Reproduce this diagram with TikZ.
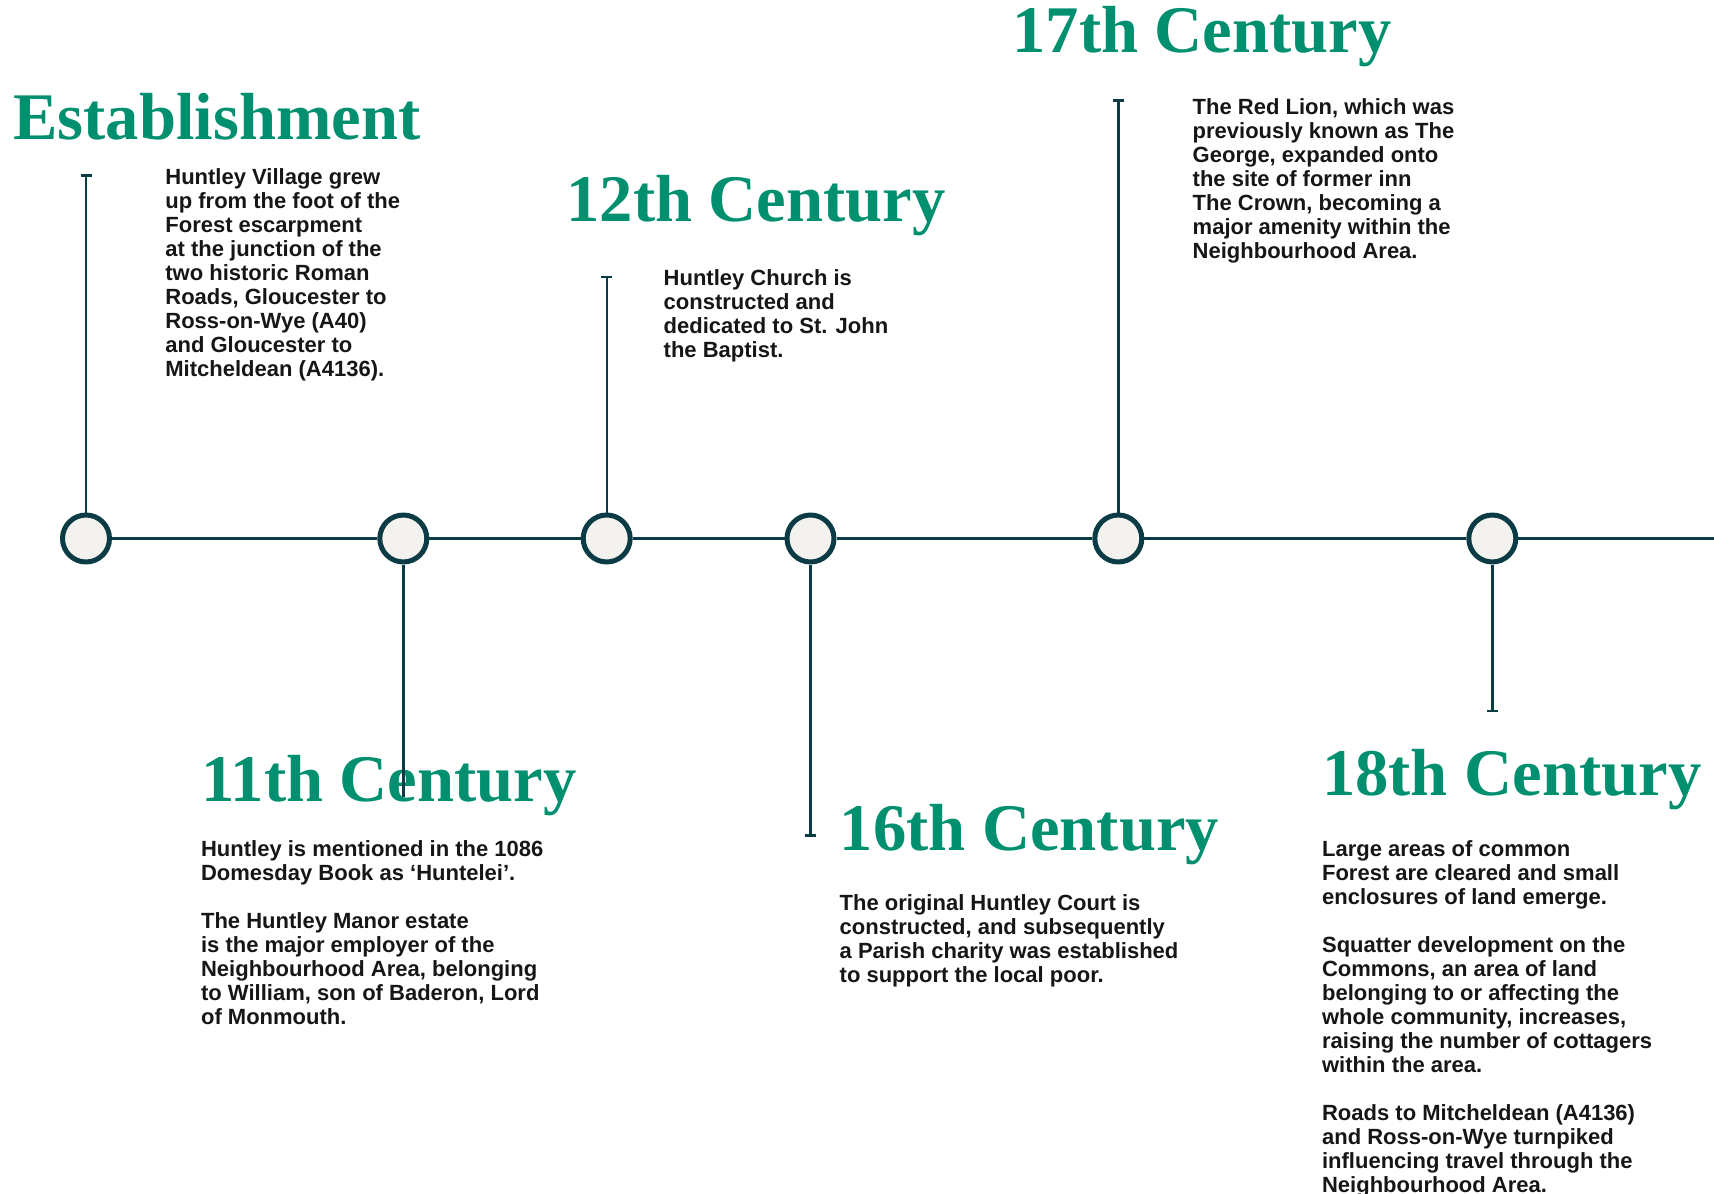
\documentclass[tikz,border=0pt]{standalone}
\usepackage{fontspec}
\setmainfont{Liberation Sans}
\newfontfamily\headfont{Liberation Serif}
\usetikzlibrary{arrows.meta}
\definecolor{eragreen}{HTML}{00906F}
\definecolor{deepteal}{HTML}{0B3C46}
\definecolor{paper}{HTML}{F3F2EE}
\definecolor{ink}{HTML}{161616}

\begin{document}
\begin{tikzpicture}[x=0.5pt,y=-0.5pt,line join=round,
  event/.style={circle,draw=deepteal,line width=2.5pt,fill=paper,
    minimum size=23.5pt,inner sep=0pt},
  spine/.style={draw=deepteal,line width=1.1pt},
  stem/.style={draw=deepteal,line width=1.2pt,-{Bar[width=5.5pt]}},
  era/.style={anchor=base west,inner sep=0pt,text=eragreen,
    font=\headfont\bfseries\fontsize{33.3}{36}\selectfont},
  %% notes sit on the baseline of their last line
  note/.style={anchor=base west,inner sep=0pt,align=left,text=ink,
    font=\bfseries\fontsize{11}{12}\selectfont}]

\useasboundingbox (0,0) rectangle (1714,1194);

%% ---------------- the time line and its events ----------------
\node[event] (e1) at (86,538.5) {};
\node[event] (e2) at (403.3,538.5) {};
\node[event] (e3) at (606.7,538.5) {};
\node[event] (e4) at (810.5,538.5) {};
\node[event] (e5) at (1118.3,538.5) {};
\node[event] (e6) at (1492.3,538.5) {};
\coordinate (lineend) at (1714,538.5);
\foreach \a/\b in {e1/e2,e2/e3,e3/e4,e4/e5,e5/e6,e6/lineend}
  \draw[spine] (\a) -- (\b);

%% ---------------- headings ----------------
\node[era] (h1) at (13,139) {Establishment};
\node[era] (h2) at (566,221) {12th Century};
\node[era] (h3) at (1012,52) {17th Century};
\node[era] (h4) at (200.7,801) {11th Century};
\node[era] (h5) at (839.3,850) {16th Century};
\node[era] (h6) at (1321.7,795) {18th Century};

%% ---------------- stems up and down from the events ----------------
\coordinate (t1) at (86,174.3);
\coordinate (t2) at (403.3,797);
\coordinate (t3) at (606.7,276);
\coordinate (t4) at (810.5,836.7);
\coordinate (t5) at (1118.3,99.3);
\coordinate (t6) at (1492.3,712.3);
\draw[stem] (e1) -- (t1);
\draw[stem,-] (e2) -- (t2);
\draw[stem] (e3) -- (t3);
\draw[stem] (e4) -- (t4);
\draw[stem] (e5) -- (t5);
\draw[stem] (e6) -- (t6);

%% ---------------- notes under each heading ----------------
\node[note] (n1) at (165,376.5) {Huntley Village grew\\up from the foot of the\\
  Forest escarpment\\at the junction of the\\two historic Roman\\
  Roads, Gloucester to\\Ross-on-Wye (A40)\\and Gloucester to\\
  Mitcheldean (A4136).};
\node[note] (n2) at (663.3,357) {Huntley Church is\\constructed and\\
  dedicated to St. John\\the Baptist.};
\node[note] (n3) at (1192.3,258.3) {The Red Lion, which was\\
  previously known as The\\George, expanded onto\\the site of former inn\\
  The Crown, becoming a\\major amenity within the\\Neighbourhood Area.};
\node[note] (n4) at (200.7,1024.7) {Huntley is mentioned in the 1086\\
  Domesday Book as ‘Huntelei’.\\[12pt]
  The Huntley Manor estate\\is the major employer of the\\
  Neighbourhood Area, belonging\\to William, son of Baderon, Lord\\
  of Monmouth.};
\node[note] (n5) at (839.3,982) {The original Huntley Court is\\
  constructed, and subsequently\\a Parish charity was established\\
  to support the local poor.};
\node[note] (n6) at (1321.7,1192.7) {Large areas of common\\
  Forest are cleared and small\\enclosures of land emerge.\\[12pt]
  Squatter development on the\\Commons, an area of land\\
  belonging to or affecting the\\whole community, increases,\\
  raising the number of cottagers\\within the area.\\[12pt]
  Roads to Mitcheldean (A4136)\\and Ross-on-Wye turnpiked\\
  influencing travel through the\\Neighbourhood Area.};

\end{tikzpicture}
\end{document}
